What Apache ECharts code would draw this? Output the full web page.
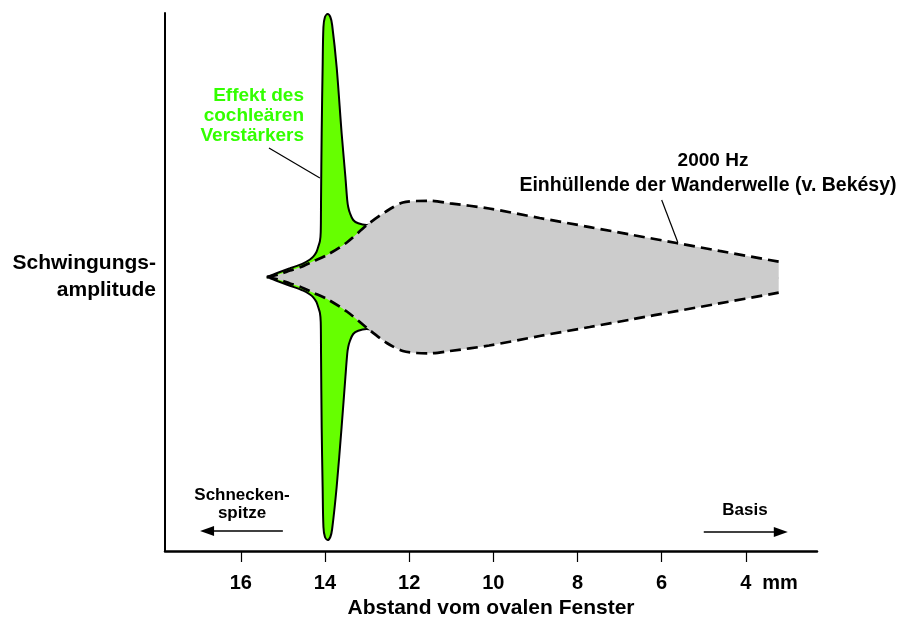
<!DOCTYPE html>
<html>
<head>
<meta charset="utf-8">
<script src="https://cdn.jsdelivr.net/npm/echarts@6/dist/echarts.min.js"></script>
<style>html,body{margin:0;padding:0;background:#fff}#c{width:901px;height:619px}</style>
</head>
<body>
<div id="c"></div>
<script>
// x positions in mm (distance from oval window), amplitudes in arbitrary units
const greenX = [15.38, 15.15, 14.83, 14.515, 14.356, 14.278, 14.202, 14.159, 14.119, 14.100, 14.093, 14.078, 14.055, 14.036, 14.000, 13.936, 13.872, 13.829, 13.722, 13.604, 13.514, 13.471, 13.447, 13.407, 13.329, 13.210, 13.011, 12.695];
const greenUpper = [0, 0.37, 0.87, 1.37, 1.75, 2.03, 2.5, 3.03, 3.6, 4.5, 7.7, 14.4, 21.0, 25.0, 26.0, 26.3, 26.0, 25.2, 21.0, 14.4, 10.0, 7.7, 7.0, 6.4, 5.7, 5.37, 5.2, 5.5];
const greenLower = [0, -0.37, -0.87, -1.37, -1.75, -2.03, -2.5, -3.03, -3.6, -4.5, -7.7, -15.0, -21.0, -25.0, -26.0, -26.3, -26.0, -25.2, -21.0, -15.0, -10.0, -7.7, -7.0, -6.4, -5.7, -5.37, -5.2, -5.5];

const grayX = [15.38, 15.07, 14.83, 14.59, 14.29, 13.95, 13.48, 13.00, 12.53, 12.15, 11.82, 11.51, 11.03, 10.10, 8.90, 7.71, 6.69, 5.65, 4.63, 3.22];
const grayUpper = [0, 0.3, 0.65, 0.97, 1.55, 2.2, 3.45, 5.2, 6.6, 7.45, 7.6, 7.62, 7.37, 6.85, 5.90, 4.99, 4.20, 3.40, 2.61, 1.53];
const grayLower = [0, -0.3, -0.65, -0.97, -1.55, -2.2, -3.45, -5.1, -6.6, -7.4, -7.6, -7.63, -7.4, -6.85, -5.90, -5.00, -4.22, -3.42, -2.64, -1.57];

const tickValues = [16, 14, 12, 10, 8, 6, 4];

const F = '"Liberation Sans", Arial, Helvetica, sans-serif';
const zip = (xs, ys) => xs.map((x, i) => [x, ys[i]]);

const chart = echarts.init(document.getElementById('c'), null, {renderer: 'canvas'});

function greenSeries(name, data, origin) {
  return {
    name, data, type: 'line', symbol: 'none', smooth: 0.3, z: 2, silent: true,
    lineStyle: {color: '#000', width: 2},
    areaStyle: {color: '#66ff00', opacity: 1, origin: origin}
  };
}
function graySeries(name, data, origin) {
  return {
    name, data, type: 'line', symbol: 'none', smooth: 0.3, z: 3, silent: true,
    lineStyle: {color: '#000', width: 2.7, type: [11, 6]},
    areaStyle: {color: '#cccccc', opacity: 1, origin: origin}
  };
}

const grayDown = graySeries('grayDown', zip(grayX, grayLower), 0);
grayDown.markLine = {
  silent: true, animation: false, symbol: ['none', 'none'],
  label: {show: false},
  lineStyle: {color: '#000', width: 1.2, type: 'solid'},
  emphasis: {disabled: true},
  data: [
    [{coord: [15.33, 12.9]}, {coord: [14.12, 9.9]}],
    [{coord: [6.0, 7.7]}, {coord: [5.62, 3.5]}],
    [{coord: [15.0, -25.4], lineStyle: {width: 1.6}}, {coord: [16.8, -25.4], symbol: 'triangle', symbolSize: [10, 14]}],
    [{coord: [5.0, -25.5], lineStyle: {width: 1.6}}, {coord: [3.17, -25.5], symbol: 'triangle', symbolSize: [10, 14]}]
  ]
};

const option = {
  animation: false,
  grid: {left: 165, right: 84, top: 13, bottom: 68, containLabel: false, outerBoundsMode: 'none'},
  xAxis: {
    type: 'value', inverse: true, min: 2.31, max: 17.8,
    name: 'Abstand vom ovalen Fenster', nameLocation: 'middle', nameGap: 45,
    nameTextStyle: {fontSize: 21, fontWeight: 'bold', color: '#000', fontFamily: F},
    axisLine: {onZero: false, lineStyle: {color: '#000', width: 2.5}},
    axisTick: {show: true, length: 11, customValues: tickValues, lineStyle: {color: '#000', width: 1.2}},
    axisLabel: {customValues: tickValues, margin: 22, fontSize: 20, fontWeight: 'bold', color: '#000', fontFamily: F,
      formatter: v => String(v)},
    splitLine: {show: false}
  },
  yAxis: {
    type: 'value', min: -27.4, max: 26.4,
    axisLine: {show: true, onZero: false, lineStyle: {color: '#000', width: 2}},
    axisTick: {show: false}, axisLabel: {show: false}, splitLine: {show: false}
  },
  series: [
    greenSeries('greenUp', zip(greenX, greenUpper), -0.2),
    greenSeries('greenDown', zip(greenX, greenLower), 0),
    graySeries('grayUp', zip(grayX, grayUpper), -0.2),
    grayDown
  ],
  graphic: [
    {type: 'text', x: 304, y: 116, silent: true, style: {text: 'Effekt des\ncochleären\nVerstärkers', align: 'right', verticalAlign: 'middle', lineHeight: 20, font: 'bold 19px ' + F, fill: '#33ff00'}},
    {type: 'text', x: 713, y: 161, silent: true, style: {text: '2000 Hz', align: 'center', verticalAlign: 'middle', font: 'bold 19px ' + F, fill: '#000'}},
    {type: 'text', x: 708, y: 186, silent: true, style: {text: 'Einhüllende der Wanderwelle (v. Bekésy)', align: 'center', verticalAlign: 'middle', font: 'bold 19.5px ' + F, fill: '#000'}},
    {type: 'text', x: 156, y: 276.5, silent: true, style: {text: 'Schwingungs-\namplitude', align: 'right', verticalAlign: 'middle', lineHeight: 27, font: 'bold 21px ' + F, fill: '#000'}},
    {type: 'text', x: 242, y: 504, silent: true, style: {text: 'Schnecken-\nspitze', align: 'center', verticalAlign: 'middle', lineHeight: 18, font: 'bold 17px ' + F, fill: '#000'}},
    {type: 'text', x: 745, y: 510, silent: true, style: {text: 'Basis', align: 'center', verticalAlign: 'middle', font: 'bold 17px ' + F, fill: '#000'}},
    {type: 'text', x: 780, y: 583, silent: true, style: {text: 'mm', align: 'center', verticalAlign: 'middle', font: 'bold 20px ' + F, fill: '#000'}}
  ]
};
chart.setOption(option);
</script>
</body>
</html>
